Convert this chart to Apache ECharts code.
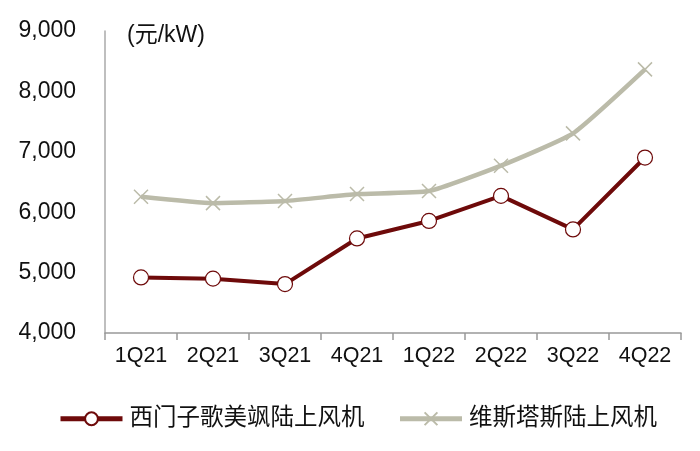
<!DOCTYPE html>
<html><head><meta charset="utf-8">
<script src="https://cdn.jsdelivr.net/npm/echarts@6/dist/echarts.min.js"></script>
<style>html,body{margin:0;padding:0;background:#fff}#c{width:700px;height:451px}</style>
</head><body><div id="c"></div>
<script>
const categories = ['1Q21','2Q21','3Q21','4Q21','1Q22','2Q22','3Q22','4Q22'];
const siemensGamesa = [4920, 4900, 4810, 5565, 5855, 6270, 5715, 6905];
const vestas = [6255, 6150, 6185, 6300, 6350, 6770, 7305, 8365];
const seriesNames = ['西门子歌美飒陆上风机', '维斯塔斯陆上风机'];
const unitLabel = '(元/kW)';
const font = '"Liberation Sans", Arial, "Noto Sans CJK SC", sans-serif';
const chart = echarts.init(document.getElementById('c'));
chart.setOption({
  animation: false,
  grid: {left: 105, right: 19, top: 31, bottom: 118},
  graphic: [{type: 'text', left: 127, top: 24, style: {text: unitLabel, fontSize: 23, fill: '#111', fontFamily: font}}],
  legend: {
    top: 402, left: 53, itemGap: 33, itemWidth: 62, itemHeight: 16,
    lineStyle: {width: 5},
    textStyle: {fontSize: 23.5, color: '#111', fontFamily: font, padding: [0,0,0,2]},
    data: seriesNames
  },
  xAxis: {
    type: 'category', data: categories, boundaryGap: true,
    axisLine: {lineStyle: {color: '#999', width: 1.5}},
    axisTick: {show: true, length: 7, lineStyle: {color: '#999', width: 1.5}},
    axisLabel: {fontSize: 21.5, color: '#111', fontFamily: font, margin: 12}
  },
  yAxis: {
    type: 'value', min: 4000, max: 9000, interval: 1000,
    axisLine: {show: true, lineStyle: {color: '#aaa', width: 1.5}},
    axisTick: {show: false}, splitLine: {show: false},
    axisLabel: {fontSize: 23, color: '#111', fontFamily: font, margin: 29,
      formatter: v => v.toLocaleString('en-US')}
  },
  series: [
    {name: seriesNames[0], type: 'line', data: siemensGamesa, symbol: 'circle', symbolSize: 15,
     lineStyle: {color: '#6E0A0A', width: 4}, itemStyle: {color: '#fff', borderColor: '#6E0A0A', borderWidth: 1.2},
     z: 3},
    {name: seriesNames[1], type: 'line', data: vestas, smooth: 0.15,
     symbol: 'path://M0,0L10,10M10,0L0,10', symbolSize: 14,
     lineStyle: {color: '#BBBBA9', width: 4.5}, itemStyle: {color: '#BBBBA9', borderColor: '#BBBBA9', borderWidth: 1.5},
     z: 2}
  ]
});
</script></body></html>
